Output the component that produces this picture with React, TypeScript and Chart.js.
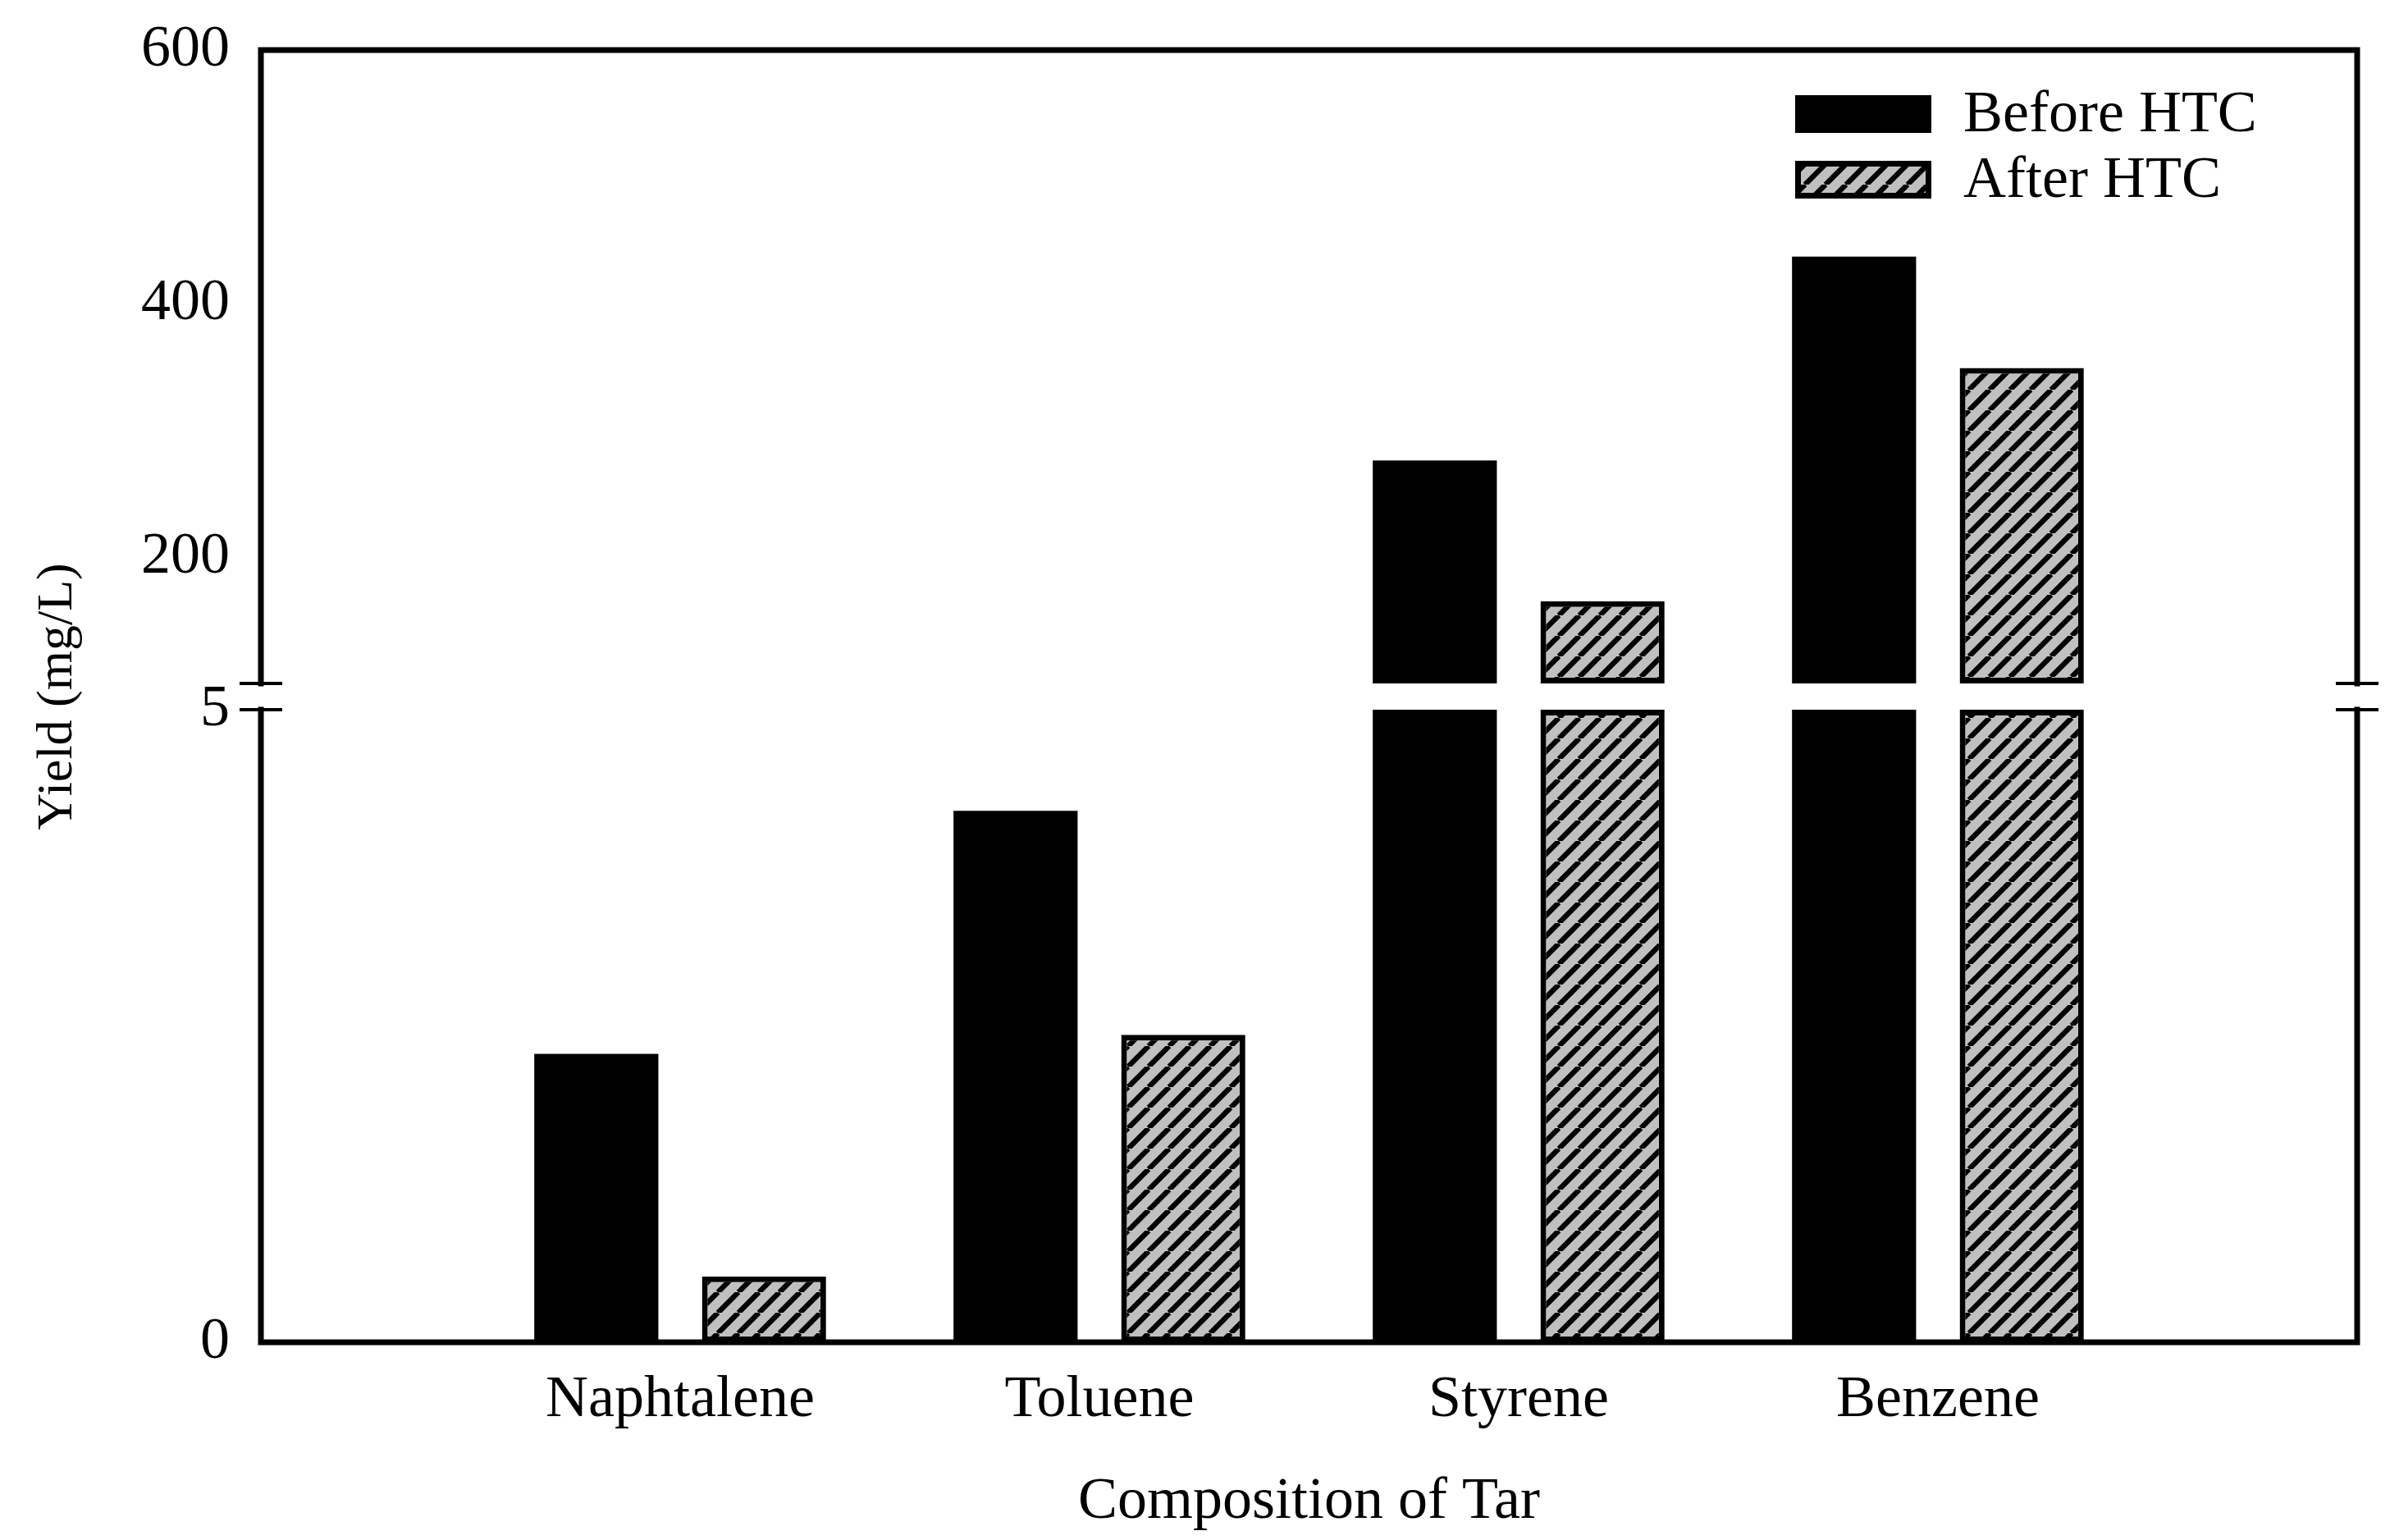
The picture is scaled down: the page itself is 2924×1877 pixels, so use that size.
import React, { useEffect, useRef } from 'react';
import { Chart, registerables } from 'chart.js';

Chart.register(...registerables);

// ---- data ----
const categories = ['', 'Naphtalene', 'Toluene', 'Styrene', 'Benzene', ''];
const beforeHTC: (number | null)[] = [null, 2.28, 4.2, 276, 437, null];
const afterHTC: (number | null)[] = [null, 0.52, 2.43, 165, 349, null];
const seriesLabels = ['Before HTC', 'After HTC'];
const lowerTicks = [0, 5];
const upperTicks = [200, 400, 600];
const LOWER_MIN = 0;
const LOWER_MAX = 5;
const UPPER_MIN = 100;
const UPPER_MAX = 600;
const xTitle = 'Composition of Tar';
const yTitle = 'Yield (mg/L)';

const FONT = "'Liberation Serif', 'Times New Roman', serif";
const W = 2924;
const H = 1877;

function makeHatch(): CanvasPattern | string {
  const s = 25;
  const c = document.createElement('canvas');
  c.width = s;
  c.height = s;
  const g = c.getContext('2d');
  if (!g) return '#c0c0c0';
  g.fillStyle = '#c0c0c0';
  g.fillRect(0, 0, s, s);
  g.strokeStyle = '#000';
  g.lineWidth = 6.5;
  g.beginPath();
  for (const o of [-s, 0, s]) {
    g.moveTo(o, s);
    g.lineTo(o + s, 0);
  }
  g.stroke();
  return g.createPattern(c, 'repeat') || '#c0c0c0';
}

const lowerPart = (arr: (number | null)[]) =>
  arr.map((v) => (v == null ? null : [LOWER_MIN, Math.min(v, LOWER_MAX)]));
const upperPart = (arr: (number | null)[]) =>
  arr.map((v) => (v == null || v <= UPPER_MIN ? null : [UPPER_MIN, Math.min(v, UPPER_MAX)]));

const framePlugin = {
  id: 'frameAndLegend',
  afterDraw(chart: any) {
    const { ctx, chartArea: a, scales } = chart;
    const breakTop = scales.yHigh.getPixelForValue(UPPER_MIN);
    const breakBot = scales.yLow.getPixelForValue(LOWER_MAX);
    ctx.save();
    ctx.strokeStyle = '#000';
    ctx.lineWidth = 7;
    ctx.lineCap = 'square';
    ctx.beginPath();
    ctx.moveTo(a.left, a.top);
    ctx.lineTo(a.right, a.top);
    ctx.moveTo(a.left, a.bottom);
    ctx.lineTo(a.right, a.bottom);
    for (const x of [a.left, a.right]) {
      ctx.moveTo(x, a.top);
      ctx.lineTo(x, breakTop);
      ctx.moveTo(x, breakBot);
      ctx.lineTo(x, a.bottom);
    }
    ctx.stroke();
    ctx.lineWidth = 4;
    ctx.lineCap = 'butt';
    ctx.beginPath();
    for (const x of [a.left, a.right]) {
      for (const y of [breakTop, breakBot]) {
        ctx.moveTo(x - 26, y);
        ctx.lineTo(x + 26, y);
      }
    }
    ctx.stroke();

    // legend
    const ds = chart.data.datasets.slice(0, 2);
    ds.forEach((d: any, i: number) => {
      const bx = a.right - 685;
      const by = a.top + 55 + i * 80;
      const bw = 166;
      const bh = 46;
      ctx.fillStyle = d.backgroundColor;
      ctx.fillRect(bx, by, bw, bh);
      if (d.borderWidth) {
        ctx.lineWidth = d.borderWidth;
        ctx.strokeStyle = d.borderColor;
        ctx.strokeRect(bx + d.borderWidth / 2, by + d.borderWidth / 2, bw - d.borderWidth, bh - d.borderWidth);
      }
      ctx.fillStyle = '#000';
      ctx.font = `72px ${FONT}`;
      ctx.textAlign = 'left';
      ctx.textBaseline = 'middle';
      ctx.fillText(d.label, bx + 205, by + bh / 2 + 2);
    });
    ctx.restore();
  },
};

export default function App() {
  const ref = useRef<HTMLCanvasElement | null>(null);

  useEffect(() => {
    if (!ref.current) return;
    const hatch = makeHatch();
    const solid = {
      backgroundColor: '#000',
      borderColor: '#000',
      borderWidth: 0,
    };
    const hatched = {
      backgroundColor: hatch,
      borderColor: '#000',
      borderWidth: 7,
      borderSkipped: false,
    };
    const fitY = (s: any) => {
      s.width = 318;
      s.paddingTop = 0;
      s.paddingBottom = 0;
    };
    const yBase = {
      type: 'linear',
      position: 'left',
      stack: 'yStack',
      stacked: false,
      grid: { display: false, drawTicks: false },
      border: { display: false },
      ticks: {
        color: '#000',
        font: { family: FONT, size: 72 },
        padding: 38,
        autoSkip: false,
      },
      afterFit: fitY,
    };

    const chart = new Chart(ref.current, {
      type: 'bar',
      data: {
        labels: categories,
        datasets: [
          { label: seriesLabels[0], data: lowerPart(beforeHTC), yAxisID: 'yLow', stack: 'before', ...solid },
          { label: seriesLabels[1], data: lowerPart(afterHTC), yAxisID: 'yLow', stack: 'after', ...hatched },
          { label: seriesLabels[0], data: upperPart(beforeHTC), yAxisID: 'yHigh', stack: 'before', ...solid },
          { label: seriesLabels[1], data: upperPart(afterHTC), yAxisID: 'yHigh', stack: 'after', ...hatched },
        ] as any,
      },
      options: {
        responsive: false,
        animation: false,
        devicePixelRatio: 1,
        layout: { padding: { top: 61, right: 51, bottom: 0, left: 0 } },
        categoryPercentage: 0.8,
        barPercentage: 0.74,
        plugins: {
          legend: { display: false },
          tooltip: { enabled: false },
        },
        scales: {
          x: {
            type: 'category',
            offset: false,
            grid: { display: false, drawTicks: false, offset: false },
            border: { display: false },
            ticks: {
              color: '#000',
              font: { family: FONT, size: 72 },
              padding: 28,
              autoSkip: false,
              maxRotation: 0,
            },
            title: {
              display: true,
              text: xTitle,
              color: '#000',
              font: { family: FONT, size: 72 },
              padding: { top: 0, bottom: 3 },
            },
            afterFit: (s: any) => {
              s.height = 241;
              s.paddingLeft = 0;
              s.paddingRight = 0;
            },
          },
          yLow: {
            ...yBase,
            weight: 1,
            stackWeight: 771,
            min: LOWER_MIN,
            max: LOWER_MAX,
            afterBuildTicks: (s: any) => {
              s.ticks = lowerTicks.map((v) => ({ value: v }));
            },
          },
          yGap: {
            type: 'linear',
            position: 'left',
            stack: 'yStack',
            weight: 2,
            stackWeight: 32,
            min: 0,
            max: 1,
            grid: { display: false, drawTicks: false },
            border: { display: false },
            ticks: { display: false },
            title: {
              display: true,
              text: yTitle,
              color: '#000',
              font: { family: FONT, size: 62 },
              padding: { top: 34, bottom: 0 },
            },
            afterFit: fitY,
          },
          yHigh: {
            ...yBase,
            weight: 3,
            stackWeight: 772,
            min: UPPER_MIN,
            max: UPPER_MAX,
            afterBuildTicks: (s: any) => {
              s.ticks = upperTicks.map((v) => ({ value: v }));
            },
          },
        } as any,
      },
      plugins: [framePlugin],
    });
    return () => chart.destroy();
  }, []);

  return (
    <div style={{ position: 'absolute', left: 0, top: 0, width: W, height: H, background: '#fff' }}>
      <canvas ref={ref} width={W} height={H} style={{ display: 'block', width: W, height: H }} />
    </div>
  );
}
